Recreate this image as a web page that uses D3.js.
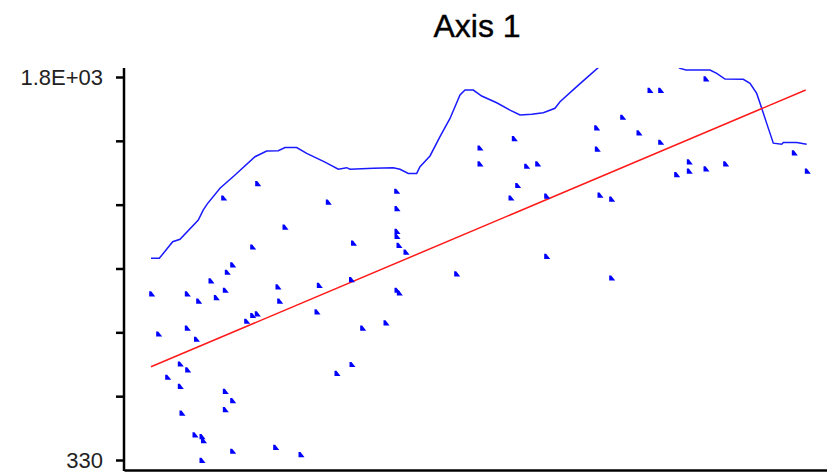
<!DOCTYPE html>
<html>
<head>
<meta charset="utf-8">
<script src="https://cdn.jsdelivr.net/npm/d3@7"></script>
<style>
  html, body { margin: 0; padding: 0; background: #fff; }
  svg { display: block; }
</style>
</head>
<body>
<script>
// Observations (x, y)
const pointX = [2.77, 3.47, 4.37, 5.63, 5.63, 5.8, 6.33, 6.33, 6.37, 7.1,
  7.25, 7.47, 7.8, 7.95, 7.8, 8.7, 9.23, 9.97, 10.13, 10.33,
  10.87, 10.13, 10.87, 10.13, 10.87, 12.27, 12.87, 13.33, 12.87, 13.37,
  15.17, 15.4, 15.57, 16.1, 17.7, 19.3, 19.53, 20.43, 21.3, 22.8,
  22.75, 22.95, 23.87, 26.2, 27.27, 27.3, 27.3, 27.3, 27.5, 28.2,
  27.3, 27.53, 33.27, 35.6, 35.6, 38.7, 39.03, 39.37, 40.27, 41.37,
  42.27, 42.27, 47.27, 47.33, 47.6, 48.77, 48.77, 49.87, 51.5, 52.6,
  53.67, 53.67, 55.27, 56.53, 56.53, 58.2, 58.2, 60.17, 67.03, 68.33];
const pointY = [966, 812, 646, 697, 611, 508, 966, 835, 674, 425,
  792, 938, 418, 403, 327, 1016, 952, 1334, 980, 1049,
  1077, 592, 556, 522, 362, 861, 883, 889, 1146, 1389,
  377, 993, 938, 1222, 349, 897, 999, 1318, 661, 695,
  1021, 1161, 835, 855, 1360, 1293, 1206, 1187, 1152, 1126,
  980, 970, 1043, 1526, 1465, 1334, 1562, 1382, 1456, 1465,
  1341, 1110, 1603, 1522, 1345, 1330, 1027, 1644, 1584, 1747,
  1747, 1548, 1424, 1473, 1437, 1446, 1791, 1465, 1507, 1437];

// Upper envelope curve
const envX = [2.7, 3.53, 4.87, 5.6, 7.43, 7.93, 8.33, 9.6, 11.1, 13.1,
  14.27, 15.43, 16.1, 17.27, 18.27, 20.1, 21.43, 22.27, 22.6, 24.93,
  26.93, 27.6, 28.43, 29.27, 29.6, 30.6, 31.6, 32.6, 33.6, 34.1,
  34.93, 35.77, 37.27, 38.6, 39.6, 40.77, 41.93, 43.1, 43.6, 45.27,
  46.6, 47.6, 49.1, 51.6, 54.1, 55.6, 56.2, 58.6, 59.27, 60.1,
  61.93, 62.6, 63.27, 63.77, 64.27, 64.93, 65.77, 65.93, 67.27, 68.27];
const envY = [1104, 1104, 1168, 1177, 1251, 1290, 1313, 1373, 1424, 1494,
  1516, 1517, 1529, 1529, 1507, 1473, 1446, 1452, 1446, 1450,
  1452, 1446, 1430, 1430, 1456, 1497, 1571, 1641, 1731, 1750,
  1750, 1727, 1701, 1673, 1654, 1657, 1663, 1680, 1705, 1763,
  1808, 1842, 1884, 1904, 1881, 1833, 1827, 1827, 1814, 1792,
  1791, 1776, 1737, 1680, 1622, 1546, 1542, 1549, 1549, 1542];

// Fitted trend line end points
const trendX = [2.7, 68.17];
const trendY = [688, 1750];

// Vertical axis ticks
const yTickValues = [330, 575, 820, 1065, 1310, 1555, 1800];
const yTickLabels = ["330", "", "", "", "", "", "1.8E+03"];

const chartTitle = "Axis 1";

const W = 827, H = 472;
const plot = { left: 124, right: 827, top: 68, bottom: 470 };

const svg = d3.select("body").append("svg")
  .attr("width", W).attr("height", H);

const x = d3.scaleLinear().domain([0, 70.3]).range([plot.left, plot.right]);
const y = d3.scaleLinear().domain([330, 1800]).range([460, 77]);

svg.append("defs").append("clipPath").attr("id", "plotClip")
  .append("rect")
  .attr("x", plot.left).attr("y", plot.top)
  .attr("width", plot.right - plot.left).attr("height", plot.bottom - plot.top);

// Title
svg.append("text")
  .attr("x", 477).attr("y", 37)
  .attr("text-anchor", "middle")
  .attr("font-family", "'Liberation Sans', Arial, sans-serif")
  .attr("font-size", 32)
  .attr("fill", "#000")
  .attr("stroke", "#000")
  .attr("stroke-width", 0.4)
  .text(chartTitle);

const layer = svg.append("g").attr("clip-path", "url(#plotClip)");

// Envelope
const envData = envX.map((v, i) => [v, envY[i]]);
layer.append("path")
  .datum(envData)
  .attr("fill", "none")
  .attr("stroke", "#1a1aff")
  .attr("stroke-width", 1.5)
  .attr("d", d3.line().x(d => x(d[0])).y(d => y(d[1])));

// Trend
const trendData = trendX.map((v, i) => [v, trendY[i]]);
layer.append("path")
  .datum(trendData)
  .attr("fill", "none")
  .attr("stroke", "#ff1a1a")
  .attr("stroke-width", 1.5)
  .attr("d", d3.line().x(d => x(d[0])).y(d => y(d[1])));

// Point markers
const pts = pointX.map((v, i) => [v, pointY[i]]);
layer.selectAll("path.pt")
  .data(pts)
  .join("path")
  .attr("class", "pt")
  .attr("transform", d => `translate(${x(d[0])},${y(d[1])})`)
  .attr("d", "M-2.5,-3 L-0.5,-3 L3.5,2.2 L-2.5,2.2 Z")
  .attr("fill", "#0000ff");

// Left axis
const yAxis = d3.axisLeft(y)
  .tickValues(yTickValues)
  .tickSize(8)
  .tickPadding(13)
  .tickFormat((d, i) => yTickLabels[i]);

const gy = svg.append("g")
  .attr("transform", `translate(${plot.left},0)`)
  .call(yAxis);
gy.select(".domain").remove();
gy.selectAll(".tick line").attr("stroke", "#000").attr("stroke-width", 2.5);
gy.selectAll(".tick text")
  .attr("font-family", "'Liberation Sans', Arial, sans-serif")
  .attr("font-size", 22)
  .attr("fill", "#222");
gy.append("line")
  .attr("x1", 0).attr("x2", 0)
  .attr("y1", plot.top).attr("y2", plot.bottom + 1)
  .attr("stroke", "#000").attr("stroke-width", 2.5);

// Bottom axis
const xAxis = d3.axisBottom(x).tickValues([]).tickSizeOuter(0);
const gx = svg.append("g")
  .attr("transform", `translate(0,${plot.bottom})`)
  .call(xAxis);
gx.select(".domain").attr("stroke", "#000").attr("stroke-width", 2.5);
</script>
</body>
</html>
